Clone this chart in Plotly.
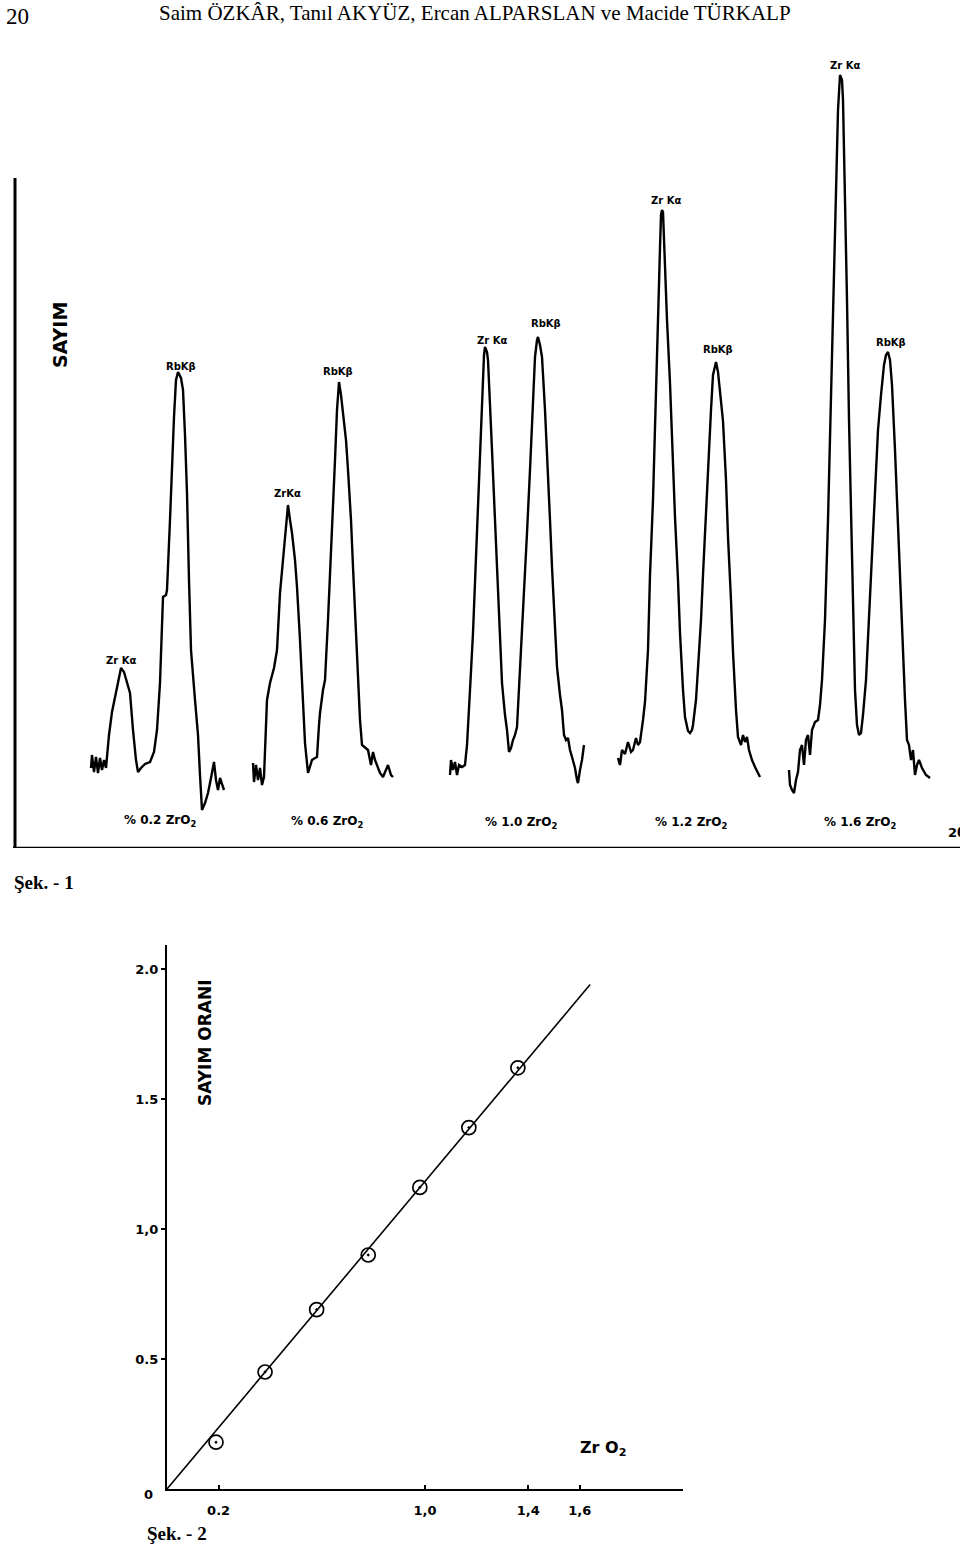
import plotly.graph_objects as go

W, H = 960, 1547

# ---------------- Şek. 1 : spectra (position, counts) ----------------
g1_x = [91,92,94,96,98,100,102,104,106,109,112,115,118,121,124,127,130,133,136,138,141,145,150,154,157,160,162,163,166,167,170,172,174,176,178,181,183,185,187,189,191,195,198,200,202,205,208,211,214,216,218,220,222,224]
g1_y = [80,93,76,91,75,90,78,88,80,113,136,151,168,180,176,165,155,118,88,76,80,84,86,96,118,165,223,251,253,258,328,388,431,468,476,470,458,413,355,268,198,148,113,73,38,45,55,70,86,68,58,70,65,58]

g2_x = [253,254,256,258,260,262,264,266,267,270,274,277,280,283,285,287,288,290,292,295,297,300,302,305,308,310,312,315,317,319,320,323,325,328,330,333,335,337,339,341,343,346,348,351,353,356,358,360,362,365,368,371,373,375,378,380,383,386,388,391,393]
g2_y = [85,66,83,68,80,63,71,128,148,165,180,198,255,288,311,338,343,328,315,288,261,208,171,105,75,83,88,90,91,123,135,158,168,228,271,338,388,438,466,453,435,408,378,328,281,218,171,128,103,100,98,83,96,88,80,75,71,78,83,73,71]

g3_x = [450,451,453,455,457,459,462,465,467,468,470,473,476,478,480,482,484,485,487,488,490,492,495,497,500,502,505,507,509,511,513,515,517,519,522,525,527,530,532,535,537,538,540,542,545,547,550,552,555,557,560,562,564,566,568,570,572,575,577,578,580,582,584]
g3_y = [73,88,78,86,73,83,81,83,103,118,158,215,288,348,398,448,493,501,496,488,448,398,328,281,218,165,133,118,96,100,108,113,121,158,215,268,315,378,431,491,508,511,503,491,438,398,328,281,223,181,153,138,113,108,110,98,91,80,68,65,78,88,103]

g4_x = [618,620,622,625,628,631,633,636,638,640,643,645,648,650,653,655,657,658,660,661,662,663,664,665,667,670,672,675,678,680,683,685,688,690,692,693,696,698,701,703,706,708,711,713,716,718,720,723,726,728,731,733,736,738,741,743,745,747,749,752,755,758,760]
g4_y = [90,83,98,94,106,96,98,110,103,106,128,146,198,273,348,427,498,542,600,633,638,636,608,580,528,465,408,331,268,215,158,131,117,115,118,123,148,177,228,273,338,388,438,473,486,476,454,427,368,311,248,196,138,111,103,113,106,111,98,88,81,75,71]

g5_x = [789,790,792,794,796,798,800,802,804,806,808,810,812,815,818,820,822,825,828,831,834,836,838,840,842,843,845,847,849,851,853,855,857,859,861,863,866,869,872,875,878,881,884,886,888,890,892,895,898,901,903,905,907,909,911,913,915,917,919,922,926,930]
g5_y = [78,63,58,55,68,76,98,103,83,108,113,93,118,126,128,143,168,228,328,448,588,678,738,773,768,748,658,548,428,328,228,158,123,113,115,133,168,228,288,358,418,453,483,493,496,488,463,398,318,238,193,148,108,103,88,98,73,83,88,80,73,70]

group_labels = ["% 0.2 ZrO<sub>2</sub>", "% 0.6 ZrO<sub>2</sub>", "% 1.0 ZrO<sub>2</sub>",
                "% 1.2 ZrO<sub>2</sub>", "% 1.6 ZrO<sub>2</sub>"]
zr_labels = ["Zr Kα", "ZrKα", "Zr Kα", "Zr Kα", "Zr Kα"]
rb_labels = ["RbKβ", "RbKβ", "RbKβ", "RbKβ", "RbKβ"]

# ---------------- Şek. 2 : calibration ----------------
zro2_pct = [0.19, 0.38, 0.58, 0.78, 0.98, 1.17, 1.36]
count_ratio = [0.18, 0.45, 0.69, 0.90, 1.16, 1.39, 1.62]
fit_x = [0.0, 1.64]
fit_y = [0.0, 1.94]
x_tick_vals = [0.2, 1.0, 1.4, 1.6]
x_tick_text = ["0.2", "1,0", "1,4", "1,6"]
y_tick_vals = [0.5, 1.0, 1.5, 2.0]
y_tick_text = ["0.5", "1,0", "1.5", "2.0"]

fig = go.Figure()

line_style = dict(color="black", width=2.4)
for gx, gy in [(g1_x, g1_y), (g2_x, g2_y), (g3_x, g3_y), (g4_x, g4_y), (g5_x, g5_y)]:
    fig.add_trace(go.Scatter(x=gx, y=gy, mode="lines", line=line_style,
                             xaxis="x", yaxis="y", showlegend=False, hoverinfo="skip"))

fig.add_trace(go.Scatter(x=fit_x, y=fit_y, mode="lines", line=dict(color="black", width=1.6),
                         xaxis="x2", yaxis="y2", showlegend=False, cliponaxis=False))
fig.add_trace(go.Scatter(x=zro2_pct, y=count_ratio, mode="markers",
                         marker=dict(symbol="circle-open-dot", size=14, color="black",
                                     line=dict(color="black", width=1.7)),
                         xaxis="x2", yaxis="y2", showlegend=False, cliponaxis=False))

def py2p(py):
    return 1 - py / H

top_dom = [py2p(848), py2p(60)]
bot_dom = [py2p(1489), py2p(945)]

tick_font = dict(family="DejaVu Sans", size=13, color="black")
fig.update_layout(
    width=W, height=H, margin=dict(l=0, r=0, t=0, b=0),
    paper_bgcolor="white", plot_bgcolor="white",
    xaxis=dict(domain=[0, 1], range=[0, 960], visible=False, fixedrange=True),
    yaxis=dict(domain=top_dom, range=[0, 788], visible=False, fixedrange=True),
    xaxis2=dict(domain=[167 / W, 683 / W], range=[0, 2.0], anchor="y2",
                showline=True, linecolor="black", linewidth=2.2, showgrid=False, zeroline=False,
                tickmode="array", tickvals=x_tick_vals, ticktext=[f"<b>{t}</b>" for t in x_tick_text],
                ticks="inside", ticklen=4, tickwidth=1.5, tickcolor="black",
                ticklabelstandoff=8, tickfont=tick_font),
    yaxis2=dict(domain=bot_dom, range=[0, 2.0923], anchor="x2",
                showline=True, linecolor="black", linewidth=2.2, showgrid=False, zeroline=False,
                tickmode="array", tickvals=y_tick_vals, ticktext=[f"<b>{t}</b>" for t in y_tick_text],
                ticks="outside", ticklen=4, tickwidth=1.5, tickcolor="black",
                tickfont=tick_font),
    showlegend=False,
)

shapes = [
    dict(type="line", xref="x", yref="y", x0=15, x1=15, y0=0, y1=848 - 178,
         line=dict(color="black", width=3)),
    dict(type="line", xref="x", yref="y", x0=13, x1=960, y0=0, y1=0,
         line=dict(color="black", width=2.4)),
]
fig.update_layout(shapes=shapes)

ann = []
def txt(x, y, text, size, family="DejaVu Sans", bold=True, angle=0, xanchor="center", yanchor="middle"):
    t = f"<b>{text}</b>" if bold else text
    ann.append(dict(x=x / W, y=py2p(y), xref="paper", yref="paper", text=t, showarrow=False,
                    font=dict(family=family, size=size, color="black"),
                    textangle=angle, xanchor=xanchor, yanchor=yanchor))

# header
txt(4, 17, "20", 23, family="Liberation Serif", bold=False, xanchor="left")
txt(475, 13, "Saim ÖZKÂR, Tanıl AKYÜZ, Ercan ALPARSLAN ve Macide TÜRKALP", 21,
    family="Liberation Serif", bold=False)

# Şek. 1 texts
txt(60, 335, "SAYIM", 19, angle=-90)
zr_pos = [(121, 660), (287, 494), (492, 340), (666, 201), (845, 66)]
rb_pos = [(181, 366), (338, 371), (546, 323), (718, 350), (891, 342)]
grp_pos = [(160, 821), (327, 822), (521, 823), (691, 823), (860, 823)]
for i in range(5):
    txt(*zr_pos[i], zr_labels[i], 10)
    txt(*rb_pos[i], rb_labels[i], 10)
    txt(*grp_pos[i], group_labels[i], 12)
txt(946, 832, "2θ", 13, xanchor="left")
txt(12, 882, "Şek. - 1", 19, family="Liberation Serif", bold=True, xanchor="left")

# Şek. 2 texts
txt(205, 1043, "SAYIM ORANI", 17, angle=-90)
txt(603, 1448, "Zr O<sub>2</sub>", 16)
txt(148, 1494, "0", 13)
txt(145, 1533, "Şek. - 2", 19, family="Liberation Serif", bold=True, xanchor="left")

fig.update_layout(annotations=ann)

fig.write_html("out.html", config={"displayModeBar": False},
               post_script="document.body.style.margin='0';document.body.style.padding='0';")
